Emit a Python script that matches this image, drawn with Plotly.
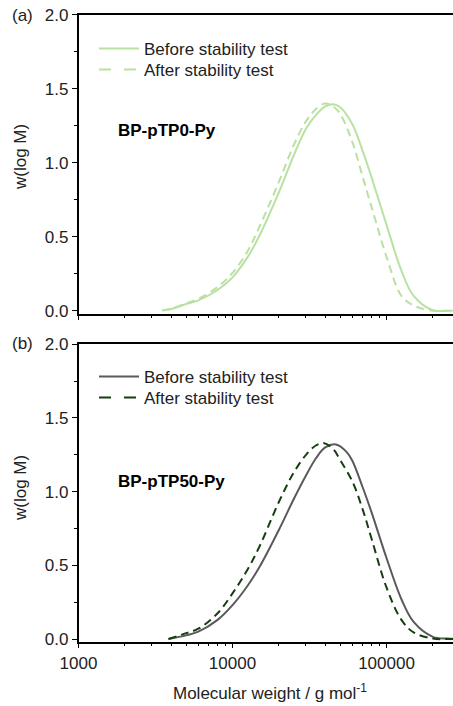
import plotly.graph_objects as go

# ---- data ----
mw_a = [3500, 4000, 5000, 6000, 8000, 10000, 12500, 15000, 20000, 25000, 30000, 35000,
        40000, 45000, 50000, 60000, 70000, 80000, 100000, 125000, 150000, 200000, 250000, 350000]
a_before = [0.002, 0.012, 0.045, 0.07, 0.14, 0.225, 0.36, 0.51, 0.80, 1.05, 1.23, 1.325,
            1.38, 1.395, 1.375, 1.26, 1.08, 0.90, 0.58, 0.27, 0.10, 0.003, 0.0, 0.0]
a_after = [0.003, 0.013, 0.05, 0.08, 0.16, 0.255, 0.40, 0.57, 0.87, 1.12, 1.28, 1.365,
           1.40, 1.38, 1.33, 1.14, 0.905, 0.70, 0.365, 0.10, 0.035, 0.0, 0.0, 0.0]

mw_b = [3840, 5000, 6000, 8000, 10000, 12500, 15000, 20000, 25000, 30000, 35000, 40000,
        47000, 55000, 60000, 70000, 80000, 100000, 125000, 150000, 200000, 250000, 350000]
b_before = [0.0, 0.025, 0.05, 0.13, 0.23, 0.36, 0.49, 0.74, 0.95, 1.11, 1.23, 1.30,
            1.32, 1.27, 1.21, 1.03, 0.86, 0.55, 0.27, 0.116, 0.015, 0.003, 0.0]
mw_b2 = [3840, 5000, 6000, 8000, 10000, 12500, 15000, 20000, 25000, 30000, 35000, 39000,
         45000, 50000, 60000, 70000, 80000, 100000, 125000, 150000, 200000, 250000, 350000]
b_after = [0.0, 0.04, 0.07, 0.175, 0.31, 0.47, 0.63, 0.93, 1.13, 1.25, 1.315, 1.33,
           1.29, 1.215, 1.07, 0.88, 0.68, 0.35, 0.13, 0.045, 0.003, 0.0, 0.0]

series_names = ["Before stability test", "After stability test"]
sample_names = ["BP-pTP0-Py", "BP-pTP50-Py"]
panel_labels = ["(a)", "(b)"]
x_tickvals = [1000, 10000, 100000]
x_ticktext = ["1000", "10000", "100000"]
x_title = "Molecular weight / g mol<sup>-1</sup>"
y_title = "w(log M)"

light_green = "#b9e1a1"
gray = "#5a5a5a"
dark_green = "#163f10"

FONT = "Arial, Liberation Sans, sans-serif"
FS = 17
# figure is a bit wider than the window so the plot runs off the right edge (as in the reference)
W, H = 475, 706
DECADE = 154.0
X0 = 78.5
PLOT_DASH = "8px,5px"
LEGEND_DASH = "12px,13px"

def px(x):
    return x / W

def py(y):
    return 1 - y / H

fig = go.Figure()
curves = [
    (mw_a, a_before, light_green, None, "x", "y", "legend", series_names[0]),
    (mw_a, a_after, light_green, PLOT_DASH, "x", "y", "legend2", series_names[1]),
    (mw_b, b_before, gray, None, "x2", "y2", "legend3", series_names[0]),
    (mw_b2, b_after, dark_green, PLOT_DASH, "x2", "y2", "legend4", series_names[1]),
]
for xs, ys, col, dash, xa, yax, lg, name in curves:
    fig.add_trace(go.Scatter(x=xs, y=ys, mode="lines", name=name, showlegend=False,
                             line=dict(color=col, width=2, dash=dash, shape="spline"),
                             xaxis=xa, yaxis=yax))
    # legend-only entry (longer dashes, as drawn in the reference legend)
    fig.add_trace(go.Scatter(x=[None], y=[None], mode="lines", name=name,
                             line=dict(color=col, width=2,
                                       dash=LEGEND_DASH if dash else None),
                             xaxis=xa, yaxis=yax, legend=lg, hoverinfo="skip"))

ya = [py(313.5), py(14.7)]
yb = [py(641.7), py(344.3)]
x_hi = 3 + (W - X0) / DECADE

xcommon = dict(type="log", range=[3, x_hi], domain=[px(X0), 1],
               showline=True, linecolor="black", linewidth=1.5, mirror=True,
               ticks="outside", ticklen=5, tickwidth=1.3, tickcolor="black",
               tickmode="array", tickvals=x_tickvals, ticktext=x_ticktext,
               showgrid=False, zeroline=False, automargin=False,
               minor=dict(ticks="outside", ticklen=3, tickwidth=1, tickcolor="black",
                          dtick="D1", showgrid=False),
               tickfont=dict(family=FONT, size=FS, color="#222"))
ycommon = dict(showline=True, linecolor="black", linewidth=1.5,
               ticks="outside", ticklen=5, tickwidth=1.3, tickcolor="black",
               dtick=0.5, tickformat=".1f", showgrid=False, zeroline=False, automargin=False,
               minor=dict(ticks="outside", ticklen=3, tickwidth=1, tickcolor="black",
                          dtick=0.25, showgrid=False),
               tickfont=dict(family=FONT, size=FS, color="#222"))

leg = dict(xanchor="left", yanchor="middle", bgcolor="rgba(0,0,0,0)",
           font=dict(family=FONT, size=FS, color="#222"), itemwidth=40)

fig.update_layout(
    width=W, height=H, margin=dict(l=0, r=0, t=0, b=0, autoexpand=False),
    paper_bgcolor="white", plot_bgcolor="white",
    font=dict(family=FONT, size=FS, color="#222"),
    xaxis=dict(xcommon, anchor="y", showticklabels=False),
    yaxis=dict(ycommon, domain=ya, range=[-0.019, 2.0], anchor="x"),
    xaxis2=dict(xcommon, anchor="y2"),
    yaxis2=dict(ycommon, domain=yb, range=[-0.018, 2.0], anchor="x2"),
    legend=dict(leg, x=px(94), y=py(49)),
    legend2=dict(leg, x=px(94), y=py(70)),
    legend3=dict(leg, x=px(94), y=py(377)),
    legend4=dict(leg, x=px(94), y=py(398)),
    showlegend=True,
)

def note(text, x, y, **kw):
    d = dict(text=text, x=px(x), y=py(y), xref="paper", yref="paper",
             showarrow=False, xanchor="center", yanchor="middle",
             font=dict(family=FONT, size=FS, color="#222"))
    d.update(kw)
    return d

ann = [
    note(panel_labels[0], 22, 16),
    note(panel_labels[1], 22, 344),
    note("<b>" + sample_names[0] + "</b>", 116, 130, xanchor="left",
         font=dict(family=FONT, size=FS, color="black")),
    note("<b>" + sample_names[1] + "</b>", 116, 482, xanchor="left",
         font=dict(family=FONT, size=FS, color="black")),
    note(y_title, 20, 157, textangle=-90),
    note(y_title, 20, 488, textangle=-90),
    note(x_title, 270, 692),
]
fig.update_layout(annotations=ann)

fig.write_html(
    "out.html",
    config={"displayModeBar": False},
    post_script="document.documentElement.style.margin='0';"
                "document.documentElement.style.overflow='hidden';"
                "document.body.style.margin='0';"
                "document.body.style.overflow='hidden';",
)
